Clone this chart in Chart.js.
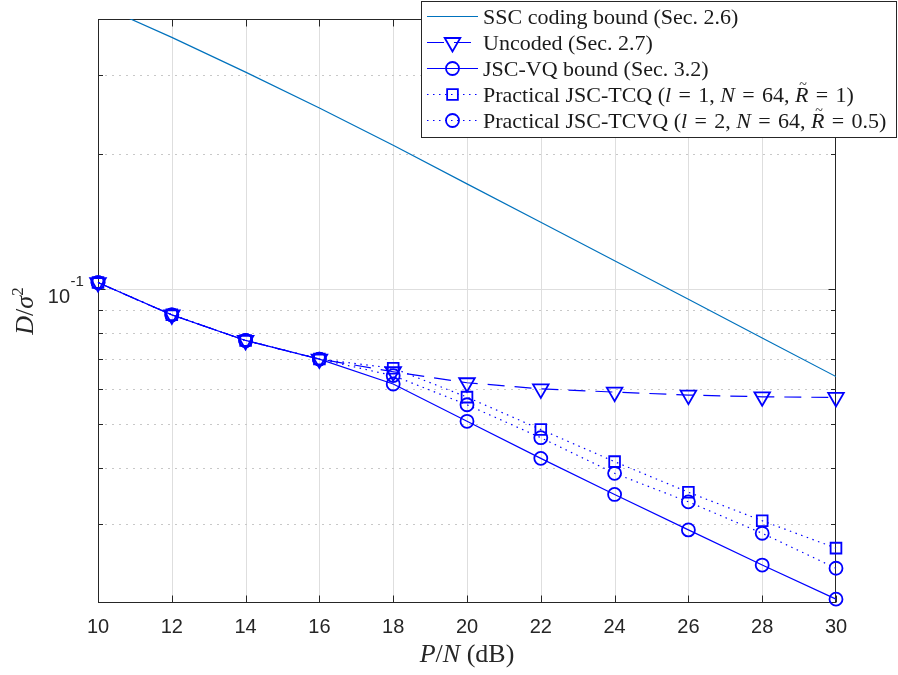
<!DOCTYPE html>
<html><head><meta charset="utf-8">
<script src="https://cdn.jsdelivr.net/npm/chart.js@4/dist/chart.umd.min.js"></script>
<style>html,body{margin:0;padding:0;background:#fff;overflow:hidden}</style>
</head><body>
<canvas id="c" width="898" height="675"></canvas>
<script>
// ---------------- data ----------------
const xValues   = [10, 12, 14, 16, 18, 20, 22, 24, 26, 28, 30];          // P/N (dB)
const sscBound  = [0.431, 0.364, 0.3046, 0.2533, 0.2093, 0.1717, 0.141, 0.1157, 0.095, 0.0779, 0.0639];
const uncoded   = [0.1035, 0.0877, 0.0769, 0.0699, 0.0655, 0.0619, 0.0600, 0.0590, 0.0581, 0.0576, 0.0574];
const jscVq     = [0.1035, 0.0877, 0.0769, 0.0699, 0.0615, 0.0508, 0.0420, 0.0349, 0.0291, 0.0243, 0.0204];
const jscTcq    = [0.1035, 0.0877, 0.0769, 0.0699, 0.0667, 0.0575, 0.0487, 0.0413, 0.0353, 0.0305, 0.0265];
const jscTcvq   = [0.1035, 0.0877, 0.0769, 0.0699, 0.0642, 0.0553, 0.0467, 0.0389, 0.0336, 0.0286, 0.0239];
const seriesLabels = ['SSC coding bound (Sec. 2.6)', 'Uncoded (Sec. 2.7)', 'JSC-VQ bound (Sec. 3.2)',
                      'Practical JSC-TCQ (l = 1, N = 64, R\u0303 = 1)', 'Practical JSC-TCVQ (l = 2, N = 64, R\u0303 = 0.5)'];
const xTicks      = [10, 12, 14, 16, 18, 20, 22, 24, 26, 28, 30];
const yMajorTicks = [0.1];
const yMinorTicks = [0.03, 0.04, 0.05, 0.06, 0.07, 0.08, 0.09, 0.2, 0.3];
const yMin = 0.02, yMax = 0.4;

// rich legend text (math parts in italics)
const EQ = '\u2004=\u2004';
const legendRich = [
  [{t: 'SSC coding bound (Sec. 2.6)'}],
  [{t: 'Uncoded (Sec. 2.7)'}],
  [{t: 'JSC-VQ bound (Sec. 3.2)'}],
  [{t: 'Practical JSC-TCQ ('}, {t: 'l', i: 1}, {t: EQ + '1, '}, {t: 'N', i: 1}, {t: EQ + '64, '}, {t: 'R', i: 1, tilde: 1}, {t: EQ + '1)'}],
  [{t: 'Practical JSC-TCVQ ('}, {t: 'l', i: 1}, {t: EQ + '2, '}, {t: 'N', i: 1}, {t: EQ + '64, '}, {t: 'R', i: 1, tilde: 1}, {t: EQ + '0.5)'}]
];

// ---------------- styling ----------------
const SANS  = '"Liberation Sans", Arial, Helvetica, sans-serif';
const SERIF = '"Liberation Serif", "Times New Roman", serif';
const AXC = '#262626';
const BLUE = '#0000FF';
const pts = arr => xValues.map((x, i) => ({x, y: arr[i]}));

function drawRich(ctx, x, y, segs, size) {
  let cx = x;
  segs.forEach(s => {
    ctx.font = (s.i ? 'italic ' : '') + (s.size || size) + 'px ' + SERIF;
    const w = ctx.measureText(s.t).width;
    ctx.fillText(s.t, cx, y + (s.dy || 0));
    if (s.tilde) {
      ctx.font = Math.round(size * 0.62) + 'px ' + SERIF;
      const tw = ctx.measureText('~').width;
      ctx.fillText('~', cx + w * 0.6 - tw / 2, y - size * 0.56);
    }
    cx += w;
  });
  return cx - x;
}
function richWidth(ctx, segs, size) {
  let w = 0;
  segs.forEach(s => { ctx.font = (s.i ? 'italic ' : '') + (s.size || size) + 'px ' + SERIF; w += ctx.measureText(s.t).width; });
  return w;
}
function drawMarker(ctx, style, r, rot, x, y) {
  ctx.beginPath();
  if (style === 'circle') ctx.arc(x, y, r, 0, Math.PI * 2);
  else if (style === 'rect') { const s = r * Math.SQRT1_2; ctx.rect(x - s, y - s, 2 * s, 2 * s); }
  else if (style === 'triangle') {
    let a = (rot || 0) * Math.PI / 180;
    ctx.moveTo(x + Math.sin(a) * r, y - Math.cos(a) * r);
    a += 2 * Math.PI / 3; ctx.lineTo(x + Math.sin(a) * r, y - Math.cos(a) * r);
    a += 2 * Math.PI / 3; ctx.lineTo(x + Math.sin(a) * r, y - Math.cos(a) * r);
    ctx.closePath();
  }
  ctx.stroke();
}

const decor = {
  id: 'decor',
  beforeDraw(chart) {
    const {ctx, chartArea: a} = chart;
    const xs = chart.scales.x, ys = chart.scales.y;
    ctx.save();
    ctx.fillStyle = '#fff'; ctx.fillRect(0, 0, chart.width, chart.height);
    ctx.lineWidth = 1;
    ctx.strokeStyle = '#dedede';
    xTicks.slice(1, -1).forEach(v => {
      const px = Math.round(xs.getPixelForValue(v)) + 0.5;
      ctx.beginPath(); ctx.moveTo(px, a.top); ctx.lineTo(px, a.bottom); ctx.stroke();
    });
    yMajorTicks.forEach(v => {
      const py = Math.round(ys.getPixelForValue(v)) + 0.5;
      ctx.beginPath(); ctx.moveTo(a.left, py); ctx.lineTo(a.right, py); ctx.stroke();
    });
    ctx.strokeStyle = '#c8c8c8'; ctx.setLineDash([2, 5]);
    yMinorTicks.forEach(v => {
      const py = Math.round(ys.getPixelForValue(v)) + 0.5;
      ctx.beginPath(); ctx.moveTo(a.left, py); ctx.lineTo(a.right, py); ctx.stroke();
    });
    ctx.restore();
  },
  beforeDatasetsDraw(chart) {
    const {ctx, chartArea: a} = chart;
    const xs = chart.scales.x, ys = chart.scales.y;
    ctx.save();
    ctx.strokeStyle = AXC; ctx.lineWidth = 1;
    const L = Math.round(a.left) + 0.5, R = Math.round(a.right) - 0.5, T = Math.round(a.top) + 0.5, B = Math.round(a.bottom) - 0.5;
    ctx.strokeRect(L, T, R - L, B - T);
    ctx.beginPath();
    xTicks.forEach(v => {
      const px = Math.round(xs.getPixelForValue(v)) + 0.5;
      ctx.moveTo(px, B); ctx.lineTo(px, B - 7);
      ctx.moveTo(px, T); ctx.lineTo(px, T + 7);
    });
    yMajorTicks.forEach(v => {
      const py = Math.round(ys.getPixelForValue(v)) + 0.5;
      ctx.moveTo(L, py); ctx.lineTo(L + 7, py);
      ctx.moveTo(R, py); ctx.lineTo(R - 7, py);
    });
    yMinorTicks.forEach(v => {
      const py = Math.round(ys.getPixelForValue(v)) + 0.5;
      ctx.moveTo(L, py); ctx.lineTo(L + 4.5, py);
      ctx.moveTo(R, py); ctx.lineTo(R - 4.5, py);
    });
    ctx.stroke();

    // y tick label 10^-1
    ctx.fillStyle = AXC;
    yMajorTicks.forEach(v => {
      const py = ys.getPixelForValue(v);
      const exp = Math.round(Math.log10(v));
      ctx.font = '20px ' + SANS; ctx.textAlign = 'right'; ctx.textBaseline = 'alphabetic';
      ctx.fillText('10', 70, py + 13.5);
      ctx.font = '15px ' + SANS; ctx.textAlign = 'left';
      ctx.fillText(String(exp), 70.5, py - 3.5);
    });

    // axis titles
    ctx.textAlign = 'left'; ctx.textBaseline = 'alphabetic';
    const xt = [{t: 'P', i: 1}, {t: '/'}, {t: 'N', i: 1}, {t: ' (dB)'}];
    const xw = richWidth(ctx, xt, 26);
    drawRich(ctx, (a.left + a.right) / 2 - xw / 2, 662, xt, 26);

    ctx.save();
    ctx.translate(33, 311);
    ctx.rotate(-Math.PI / 2);
    const yt = [{t: 'D', i: 1}, {t: '/'}, {t: '\u03C3', i: 1}, {t: '2', size: 17, dy: -10}];
    const yw = richWidth(ctx, yt, 26);
    drawRich(ctx, -yw / 2, 0, yt, 26);
    ctx.restore();
    ctx.restore();
  },
  afterDraw(chart) {
    const ctx = chart.ctx;
    ctx.save();
    const bx = 421.5, by = 1.5, bw = 475, bh = 136;
    ctx.fillStyle = '#fff'; ctx.fillRect(bx, by, bw, bh);
    ctx.strokeStyle = AXC; ctx.lineWidth = 1; ctx.strokeRect(bx, by, bw, bh);
    chart.data.datasets.forEach((ds, i) => {
      const yc = 16.5 + i * 26;
      ctx.strokeStyle = ds.borderColor; ctx.lineWidth = ds.borderWidth;
      ctx.setLineDash(ds.borderDash || []);
      ctx.beginPath(); ctx.moveTo(427, yc); ctx.lineTo(478, yc); ctx.stroke();
      ctx.setLineDash([]);
      if (ds.pointRadius > 0) {
        ctx.lineWidth = ds.pointBorderWidth;
        drawMarker(ctx, ds.pointStyle, ds.pointRadius, ds.pointRotation, 452.5, yc);
      }
      ctx.fillStyle = '#1a1a1a'; ctx.textAlign = 'left'; ctx.textBaseline = 'alphabetic';
      drawRich(ctx, 483, yc + 7, legendRich[i], 22);
    });
    ctx.restore();
  }
};

const common = {fill: false, tension: 0, borderWidth: 1.2, pointBackgroundColor: 'rgba(0,0,0,0)',
                pointBorderWidth: 1.8, pointHoverRadius: 0, clip: false};

new Chart(document.getElementById('c'), {
  type: 'line',
  data: {
    datasets: [
      {label: seriesLabels[0], data: pts(sscBound), borderColor: '#0072BD', borderWidth: 1.2, pointRadius: 0,
       fill: false, tension: 0, clip: 0},
      Object.assign({}, common, {label: seriesLabels[1], data: pts(uncoded), borderColor: BLUE, pointBorderColor: BLUE,
       borderDash: [17, 10], pointStyle: 'triangle', pointRotation: 180, pointRadius: 9}),
      Object.assign({}, common, {label: seriesLabels[2], data: pts(jscVq), borderColor: BLUE, pointBorderColor: BLUE,
       pointStyle: 'circle', pointRadius: 6.5}),
      Object.assign({}, common, {label: seriesLabels[3], data: pts(jscTcq), borderColor: BLUE, pointBorderColor: BLUE,
       borderDash: [1.5, 4.5], pointStyle: 'rect', pointRadius: 7.6}),
      Object.assign({}, common, {label: seriesLabels[4], data: pts(jscTcvq), borderColor: BLUE, pointBorderColor: BLUE,
       borderDash: [1.5, 4.5], pointStyle: 'circle', pointRadius: 6.5})
    ]
  },
  options: {
    responsive: false, animation: false, devicePixelRatio: 1,
    layout: {padding: {top: 19, right: 62, left: 0, bottom: 0}},
    plugins: {legend: {display: false}, tooltip: {enabled: false}},
    events: [],
    scales: {
      x: {type: 'linear', min: xTicks[0], max: xTicks[xTicks.length - 1],
          afterBuildTicks: s => { s.ticks = xTicks.map(v => ({value: v})); },
          ticks: {font: {family: SANS, size: 20}, color: AXC, padding: 12, maxRotation: 0, autoSkip: false},
          grid: {display: false, drawTicks: false}, border: {display: false},
          afterFit: s => { s.height = 72; }},
      y: {type: 'logarithmic', min: yMin, max: yMax,
          ticks: {display: false}, grid: {display: false, drawTicks: false}, border: {display: false},
          afterFit: s => { s.width = 98; }}
    }
  },
  plugins: [decor]
});
</script>
</body></html>
